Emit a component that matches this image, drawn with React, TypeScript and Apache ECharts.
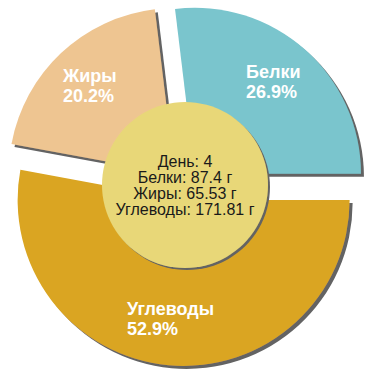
import React, { useEffect, useRef } from "react";
import * as echarts from "echarts";

const categories = ["Белки", "Жиры", "Углеводы"];
const grams = [87.4, 65.53, 171.81];
const colors = ["#7AC5CD", "#EEC591", "#DAA520"];
const dayNumber = 4;
const gramLabels = ["87.4", "65.53", "171.81"];

// label anchors (left x, middle y) for each slice label
const labelAnchors = [
  [246, 82],
  [63, 86],
  [127, 319],
];

export default function App() {
  const ref = useRef<HTMLDivElement>(null);
  useEffect(() => {
    if (!ref.current) return;
    const chart = echarts.init(ref.current, undefined, { renderer: "svg" });
    const total = grams.reduce((a, b) => a + b, 0);
    const centerText = [
      `День: ${dayNumber}`,
      ...categories.map((c, i) => `${c}: ${gramLabels[i]} г`),
    ].join("\n");
    chart.setOption({
      animation: false,
      graphic: categories.map((c, i) => ({
        type: "text",
        x: labelAnchors[i][0],
        y: labelAnchors[i][1],
        z: 100,
        silent: true,
        style: {
          text: `${c}\n${((grams[i] / total) * 100).toFixed(1)}%`,
          fill: "#ffffff",
          font: "bold 18px 'Liberation Sans', Arial, sans-serif",
          lineHeight: 20,
          align: "left",
          verticalAlign: "middle",
        },
      })),
      series: [
        {
          type: "pie",
          center: [185, 185],
          radius: [0, 166],
          startAngle: 0,
          clockwise: false,
          selectedMode: "multiple",
          selectedOffset: 15,
          emphasis: { disabled: true },
          select: { itemStyle: { borderWidth: 0 } },
          silent: true,
          itemStyle: {
            borderWidth: 0,
            shadowColor: "#646464",
            shadowBlur: 0,
            shadowOffsetX: 3,
            shadowOffsetY: 3,
          },
          label: { show: false },
          labelLine: { show: false },
          data: categories.map((name, i) => ({
            name,
            value: grams[i],
            selected: true,
            itemStyle: { color: colors[i] },
            select: { itemStyle: { color: colors[i] } },
          })),
        },
        {
          type: "pie",
          center: [185, 185],
          radius: [0, 83],
          silent: true,
          emphasis: { disabled: true },
          itemStyle: {
            color: "#E8D778",
            shadowColor: "#646464",
            shadowBlur: 0,
            shadowOffsetX: 2,
            shadowOffsetY: 2,
          },
          label: {
            show: true,
            position: "center",
            formatter: () => centerText,
            color: "#1a1a1a",
            fontFamily: "Liberation Sans, Arial, sans-serif",
            fontSize: 16,
            lineHeight: 16,
          },
          labelLine: { show: false },
          data: [{ name: "День", value: 1 }],
        },
      ],
    });
    return () => chart.dispose();
  }, []);
  return (
    <div
      ref={ref}
      style={{ position: "fixed", left: 0, top: 0, width: 370, height: 370, background: "#fff" }}
    />
  );
}
